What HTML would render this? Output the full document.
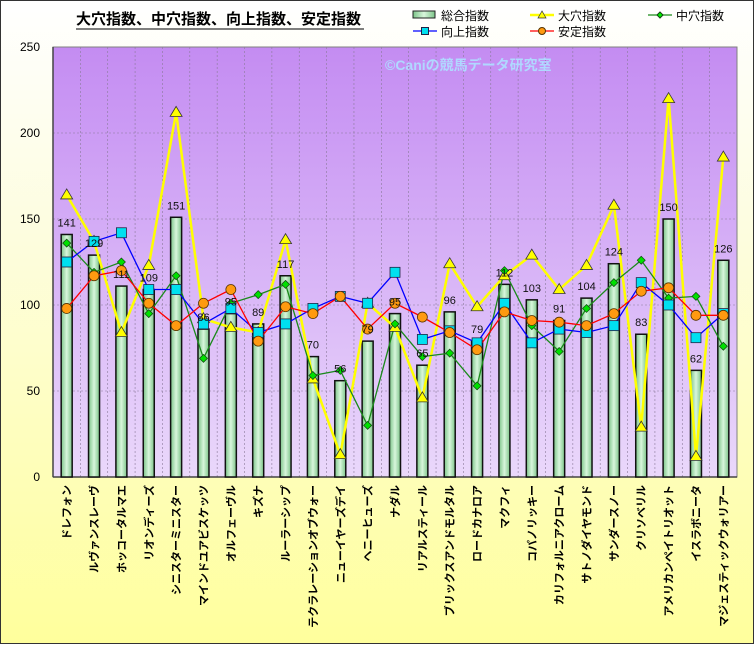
<!DOCTYPE html>
<html><head><meta charset="utf-8"><style>
html,body{margin:0;padding:0;}
body{width:754px;height:644px;overflow:hidden;}
svg text{font-family:"Liberation Sans","Noto Sans CJK JP",sans-serif;}
</style></head><body>
<svg id="c" width="754" height="644" xmlns="http://www.w3.org/2000/svg">
<defs>
<linearGradient id="bg" x1="0" y1="0" x2="0" y2="1">
<stop offset="0" stop-color="#ffffff"/><stop offset="0.35" stop-color="#fdfde0"/><stop offset="1" stop-color="#ffff9c"/>
</linearGradient>
<linearGradient id="pl" x1="0" y1="0" x2="0" y2="1">
<stop offset="0" stop-color="#c48cf2"/><stop offset="1" stop-color="#ead8fb"/>
</linearGradient>
<linearGradient id="bar" x1="0" y1="0" x2="1" y2="0">
<stop offset="0" stop-color="#7cc488"/><stop offset="0.5" stop-color="#d8f6dc"/><stop offset="1" stop-color="#7cc488"/>
</linearGradient>
</defs>
<rect x="0.5" y="0.5" width="753" height="643" fill="url(#bg)" stroke="#333" stroke-width="1"/>
<g id="g"></g>
</svg>
<script>
var names=["ドレフォン","ルヴァンスレーヴ","ホッコータルマエ","リオンディーズ","シニスターミニスター","マインドユアビスケッツ","オルフェーヴル","キズナ","ルーラーシップ","テクラレーションオブウォー","ニューイヤーズデイ","ヘニーヒューズ","ナダル","リアルスティール","ブリックスアンドモルタル","ロードカナロア","マクフィ","コパノリッキー","カリフォルニアクローム","サトノダイヤモンド","サンダースノー","クリソベリル","アメリカンペイトリオット","イスラボニータ","マジェスティックウォリアー"];
var bars=[141,129,111,109,151,86,95,89,117,70,56,79,95,65,96,79,112,103,91,104,124,83,150,62,126];
var yel=[164,137,84,123,212,92,87,84,138,57,13,101,87,46,124,99,117,129,109,123,158,29,220,12,186];
var grn=[136,119,125,95,117,69,101,106,112,59,62,30,89,70,72,53,120,88,73,98,113,126,104,105,76];
var blu=[125,137,142,109,109,89,98,84,89,98,105,101,119,80,85,78,101,78,86,84,88,113,100,81,95];
var red=[98,117,120,101,88,101,109,79,99,95,105,86,101,93,84,74,96,91,90,88,95,108,110,94,94];
var L=53,R=737,T=47,B=477,n=25,w=(R-L)/n;
function Y(v){return B-(B-T)*v/250}
function X(i){return L+w*(i+0.5)}
var s='';
s+='<rect x="'+L+'" y="'+T+'" width="'+(R-L)+'" height="'+(B-T)+'" fill="url(#pl)" stroke="#808080"/>';
for(var i=1;i<n;i++){var x=L+w*i;s+='<line x1="'+x+'" y1="'+T+'" x2="'+x+'" y2="'+B+'" stroke="#8a7a9a" stroke-width="0.6" stroke-dasharray="2,2"/>';}
for(var v=50;v<250;v+=50){s+='<line x1="'+L+'" y1="'+Y(v)+'" x2="'+R+'" y2="'+Y(v)+'" stroke="#8a7a9a" stroke-width="0.6" stroke-dasharray="2,2"/>';}
for(var v=0;v<=250;v+=50){s+='<text x="40" y="'+(Y(v)+4)+'" font-size="12" text-anchor="end" fill="#000">'+v+'</text>';}
s+='<line x1="'+L+'" y1="'+T+'" x2="'+L+'" y2="'+B+'" stroke="#444" stroke-width="1.5"/><line x1="'+L+'" y1="'+B+'" x2="'+R+'" y2="'+B+'" stroke="#444" stroke-width="1.5"/>';
s+='<text x="385" y="70" font-size="14" fill="#b0d8ff" font-weight="bold">©Caniの競馬データ研究室</text>';
for(var i=0;i<n;i++){var y=Y(bars[i]);s+='<rect x="'+(X(i)-5.5)+'" y="'+y+'" width="11" height="'+(B-y)+'" fill="url(#bar)" stroke="#111" stroke-width="1.5"/>';}
function line(d,c,sw){var p=d.map(function(v,i){return X(i).toFixed(1)+','+Y(v).toFixed(1)}).join(' ');s+='<polyline points="'+p+'" fill="none" stroke="'+c+'" stroke-width="'+sw+'"/>';}
line(yel,'#ffff00',2.5);line(grn,'#1a8a1a',1.3);line(blu,'#0000ff',1.3);line(red,'#ff0000',1.3);
for(var i=0;i<n;i++){var x=X(i),y=Y(yel[i]);s+='<polygon points="'+x+','+(y-6)+' '+(x-6)+','+(y+4)+' '+(x+6)+','+(y+4)+'" fill="#ffff00" stroke="#333" stroke-width="0.8"/>';}
for(var i=0;i<n;i++){var x=X(i),y=Y(grn[i]);s+='<polygon points="'+x+','+(y-4)+' '+(x+4)+','+y+' '+x+','+(y+4)+' '+(x-4)+','+y+'" fill="#00e000" stroke="#114411" stroke-width="0.7"/>';}
for(var i=0;i<n;i++){var x=X(i),y=Y(blu[i]);s+='<rect x="'+(x-5)+'" y="'+(y-5)+'" width="10" height="10" fill="#00e0f0" stroke="#224" stroke-width="0.8"/>';}
for(var i=0;i<n;i++){var x=X(i),y=Y(red[i]);s+='<circle cx="'+x+'" cy="'+y+'" r="5" fill="#ff9a10" stroke="#553300" stroke-width="0.8"/>';}
for(var i=0;i<n;i++){s+='<text x="'+X(i)+'" y="'+(Y(bars[i])-8)+'" font-size="11" text-anchor="middle" fill="#111">'+bars[i]+'</text>';}
for(var i=0;i<n;i++){var x=X(i)+4,y=485;s+='<text transform="translate('+x+','+y+') rotate(-90)" font-size="11" font-weight="bold" text-anchor="end" fill="#000">'+names[i]+'</text>';}
s+='<text x="76" y="24" font-size="15" font-weight="bold" fill="#000">大穴指数、中穴指数、向上指数、安定指数</text>';
s+='<line x1="76" y1="29" x2="364" y2="29" stroke="#000" stroke-width="1"/>';
function lg(x,y,t,k){
 if(k==0){s+='<rect x="'+x+'" y="'+(y-4)+'" width="22" height="7" fill="url(#bar)" stroke="#222"/>';}
 else{var c=['','#ffff00','#1a8a1a','#0000ff','#ff0000'][k];s+='<line x1="'+x+'" y1="'+y+'" x2="'+(x+24)+'" y2="'+y+'" stroke="'+c+'" stroke-width="'+(k==1?2.5:1.3)+'"/>';var m=x+12;
  if(k==1)s+='<polygon points="'+m+','+(y-4)+' '+(m-4)+','+(y+3)+' '+(m+4)+','+(y+3)+'" fill="#ff0" stroke="#333" stroke-width="0.7"/>';
  if(k==2)s+='<polygon points="'+m+','+(y-3)+' '+(m+3)+','+y+' '+m+','+(y+3)+' '+(m-3)+','+y+'" fill="#0e0" stroke="#141"/>';
  if(k==3)s+='<rect x="'+(m-3.5)+'" y="'+(y-3.5)+'" width="7" height="7" fill="#00e0f0" stroke="#224"/>';
  if(k==4)s+='<circle cx="'+m+'" cy="'+y+'" r="3.5" fill="#ff9a10" stroke="#530"/>';}
 s+='<text x="'+(x+28)+'" y="'+(y+5)+'" font-size="12" fill="#000">'+t+'</text>';}
lg(413,15,'総合指数',0);lg(530,15,'大穴指数',1);lg(648,15,'中穴指数',2);lg(413,31,'向上指数',3);lg(530,31,'安定指数',4);
document.getElementById('g').innerHTML=s;
</script>
</body></html>
